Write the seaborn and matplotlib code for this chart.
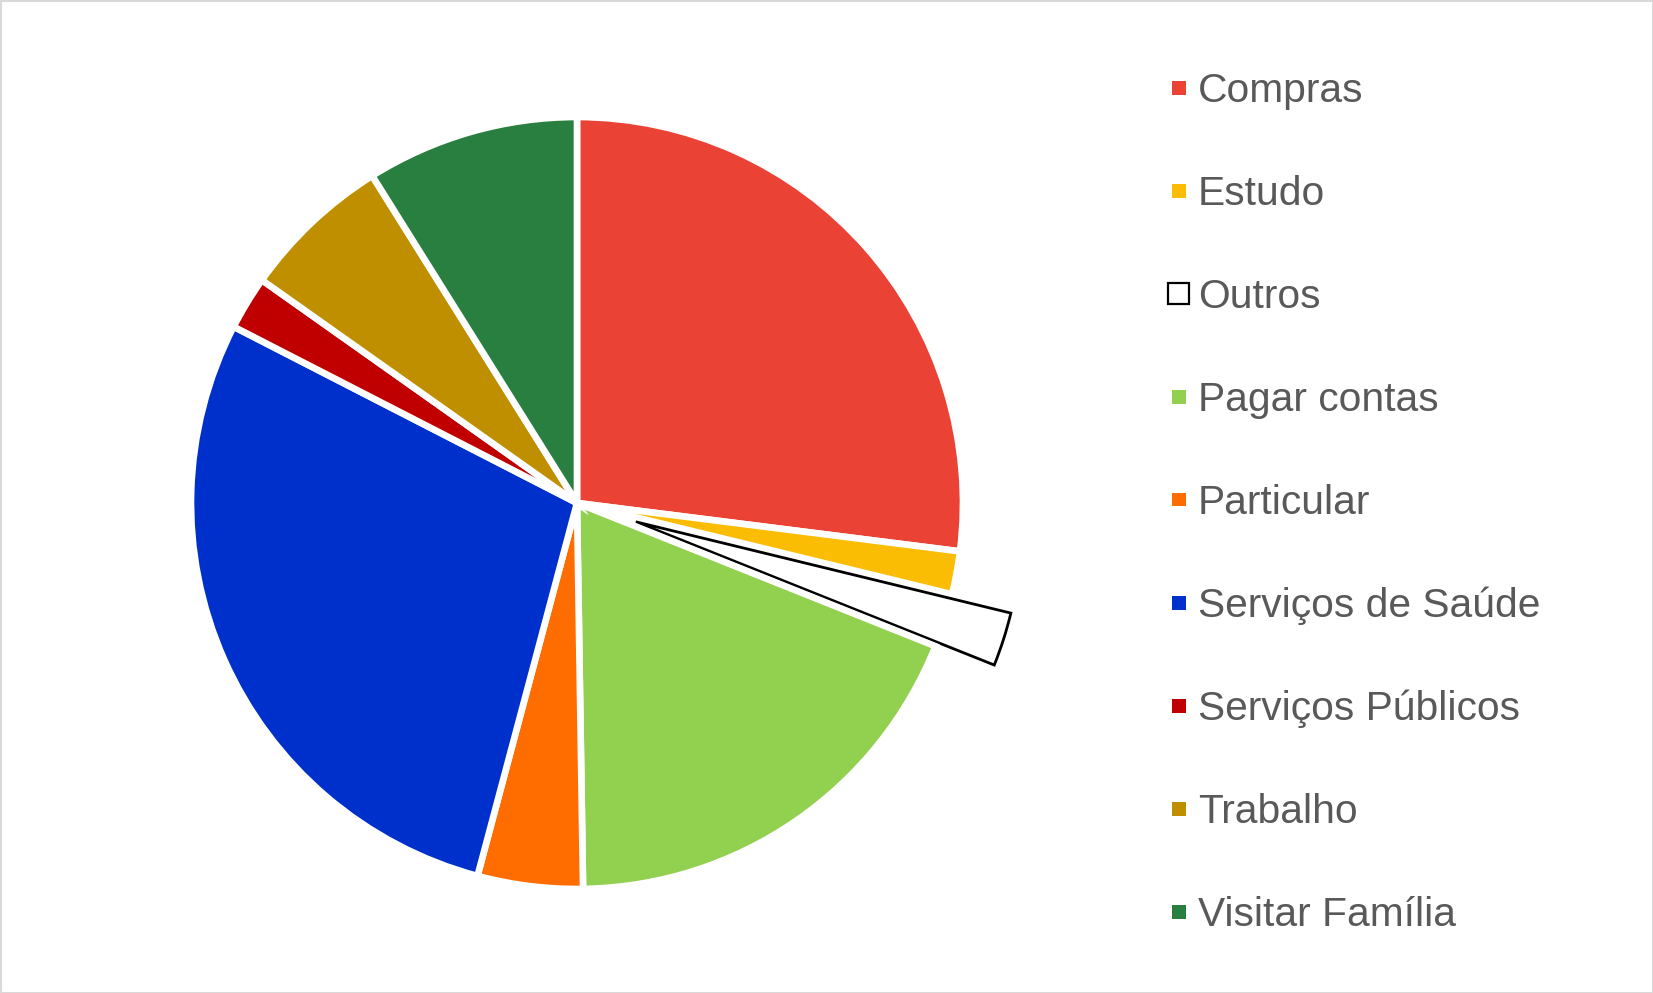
import matplotlib.pyplot as plt
import matplotlib.patches as mpatches
import pandas as pd
import seaborn as sns

categorias = [
    "Compras", "Estudo", "Outros", "Pagar contas", "Particular",
    "Serviços de Saúde", "Serviços Públicos", "Trabalho", "Visitar Família",
]
percentuais = [27.0, 1.8, 2.25, 18.7, 4.4, 28.4, 2.25, 6.3, 8.9]
cores = [
    "#EA4335", "#FBBC04", "#FFFFFF", "#92D050", "#FF6D01",
    "#0030CC", "#C00000", "#BF8F00", "#287F3F",
]
destaque = [0, 0, 0.16, 0, 0, 0, 0, 0, 0]

df = pd.DataFrame({"categoria": categorias, "valor": percentuais, "cor": cores, "explode": destaque})

sns.set_style("white")
plt.rcParams["font.family"] = ["Liberation Sans", "DejaVu Sans"]

W, H = 1653, 993
fig = plt.figure(figsize=(W / 100, H / 100), dpi=100)

# pie placed in pixel terms so it lines up with the reference
cx, cy, r = 577, 503, 386
ax = fig.add_axes([(cx - r) / W, (H - cy - r) / H, 2 * r / W, 2 * r / H])

wedges, _ = ax.pie(
    df["valor"],
    colors=df["cor"],
    explode=df["explode"],
    startangle=90,
    counterclock=False,
    radius=1,
    wedgeprops=dict(edgecolor="white", linewidth=4.8),
)
for w in wedges:
    w.set_clip_on(False)

# "Outros" is white with a black outline
outros = wedges[categorias.index("Outros")]
outros.set_edgecolor("black")
outros.set_linewidth(2)

ax.set_xlim(-1, 1)
ax.set_ylim(-1, 1)
ax.set_aspect("equal")
ax.axis("off")

# legend, drawn by hand to match spacing
for i, row in df.iterrows():
    yc = 87.5 + 103 * i
    if row["categoria"] == "Outros":
        s, ec, lw = 21, "black", 1.6
    else:
        s, ec, lw = 14, row["cor"], 0
    fig.add_artist(mpatches.Rectangle(
        ((1178.5 - s / 2) / W, 1 - (yc + s / 2) / H), s / W, s / H,
        transform=fig.transFigure, facecolor=row["cor"], edgecolor=ec, linewidth=lw,
    ))
    fig.text(1198 / W, 1 - (yc + 14.2) / H, row["categoria"],
             fontsize=29.3, color="#595959", va="baseline", ha="left")

fig.add_artist(mpatches.Rectangle(
    (0.5 / W, 0.5 / H), 1 - 1 / W, 1 - 1 / H,
    transform=fig.transFigure, fill=False, edgecolor="#D9D9D9", linewidth=1.5,
))

fig.savefig("out.png", dpi=100)
